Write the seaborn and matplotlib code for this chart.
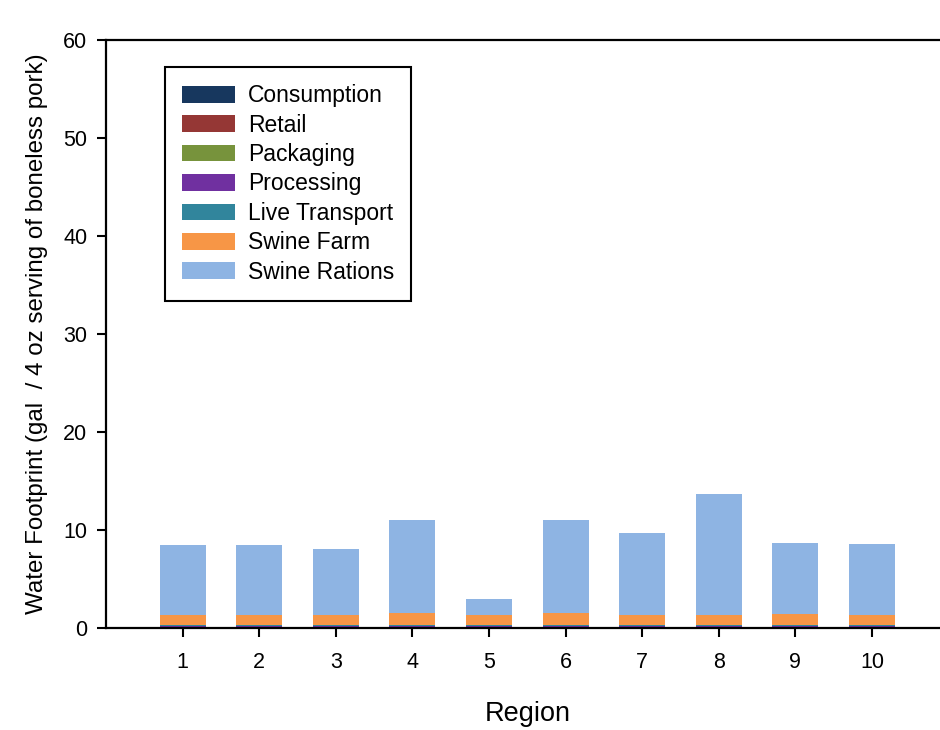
import numpy as np
import pandas as pd
import matplotlib
matplotlib.use("Agg")
import matplotlib.pyplot as plt
import seaborn as sns

regions = [1, 2, 3, 4, 5, 6, 7, 8, 9, 10]
components = ["Consumption", "Retail", "Packaging", "Processing",
              "Live Transport", "Swine Farm", "Swine Rations"]
consumption = [0.03, 0.03, 0.03, 0.03, 0.03, 0.03, 0.03, 0.03, 0.03, 0.03]
retail = [0.06, 0.06, 0.06, 0.06, 0.06, 0.06, 0.06, 0.06, 0.06, 0.06]
packaging = [0.01, 0.01, 0.01, 0.01, 0.01, 0.01, 0.01, 0.01, 0.01, 0.01]
processing = [0.15, 0.15, 0.15, 0.15, 0.15, 0.15, 0.15, 0.15, 0.15, 0.15]
live_transport = [0.02, 0.02, 0.02, 0.02, 0.02, 0.02, 0.02, 0.02, 0.02, 0.02]
swine_farm = [1.01, 1.01, 1.01, 1.23, 1.01, 1.23, 1.01, 1.01, 1.13, 1.01]
swine_rations = [7.23, 7.23, 6.80, 9.56, 1.72, 9.56, 8.39, 12.40, 7.24, 7.27]

colors = ["#17375E", "#953735", "#77933C", "#7030A0",
          "#31859C", "#F79646", "#8EB4E3"]

series = [consumption, retail, packaging, processing,
          live_transport, swine_farm, swine_rations]
cumulative = np.cumsum(np.array(series), axis=0)

rows = []
for comp_number, comp in enumerate(components):
    for region_number, region in enumerate(regions):
        rows.append({"region": region,
                     "component": comp,
                     "top": cumulative[comp_number, region_number]})
data = pd.DataFrame(rows)

sns.set_style("ticks")
plt.rcParams["font.family"] = ["Liberation Sans", "DejaVu Sans"]
plt.rcParams["text.color"] = "black"
plt.rcParams["axes.labelcolor"] = "black"

fig = plt.figure(figsize=(9.4, 7.3), dpi=100)
ax = fig.add_axes([106/940, 102/730, 11*76.6/940, 588/730])

# tallest cumulative drawn first, lower segments painted over it
draw_order = components[::-1]
sns.barplot(data=data,
            x="region",
            y="top",
            hue="component",
            hue_order=draw_order,
            palette=dict(zip(components, colors)),
            dodge=False,
            native_scale=True,
            width=0.6,
            saturation=1,
            linewidth=0,
            errorbar=None,
            ax=ax)

ax.set(xlim=(0, 11),
       ylim=(0, 60),
       xticks=regions,
       yticks=[0, 10, 20, 30, 40, 50, 60])
ax.set_xlabel("Region", fontsize=19.5, labelpad=20)
ax.set_ylabel("Water Footprint (gal  / 4 oz serving of boneless pork)",
              fontsize=17.4, labelpad=11)
ax.tick_params(axis="both", direction="out", length=6.5, width=1.5,
               labelsize=15.5, pad=7, colors="black")
ax.tick_params(axis="x", pad=11)
for side in ["left", "bottom", "top", "right"]:
    ax.spines[side].set_visible(True)
    ax.spines[side].set_linewidth(1.6)
    ax.spines[side].set_color("black")

handles, labels = ax.get_legend_handles_labels()
legend = ax.legend(handles[::-1], labels[::-1],
                   loc="upper left",
                   bbox_to_anchor=(0.07, 0.954),
                   borderaxespad=0,
                   fontsize=16.5,
                   handlelength=2.3,
                   handleheight=0.74,
                   labelspacing=0.28,
                   handletextpad=0.57,
                   borderpad=0.75,
                   fancybox=False,
                   framealpha=1)
legend.get_frame().set_edgecolor("black")
legend.get_frame().set_linewidth(1.5)

fig.savefig("out.png", dpi=100)
